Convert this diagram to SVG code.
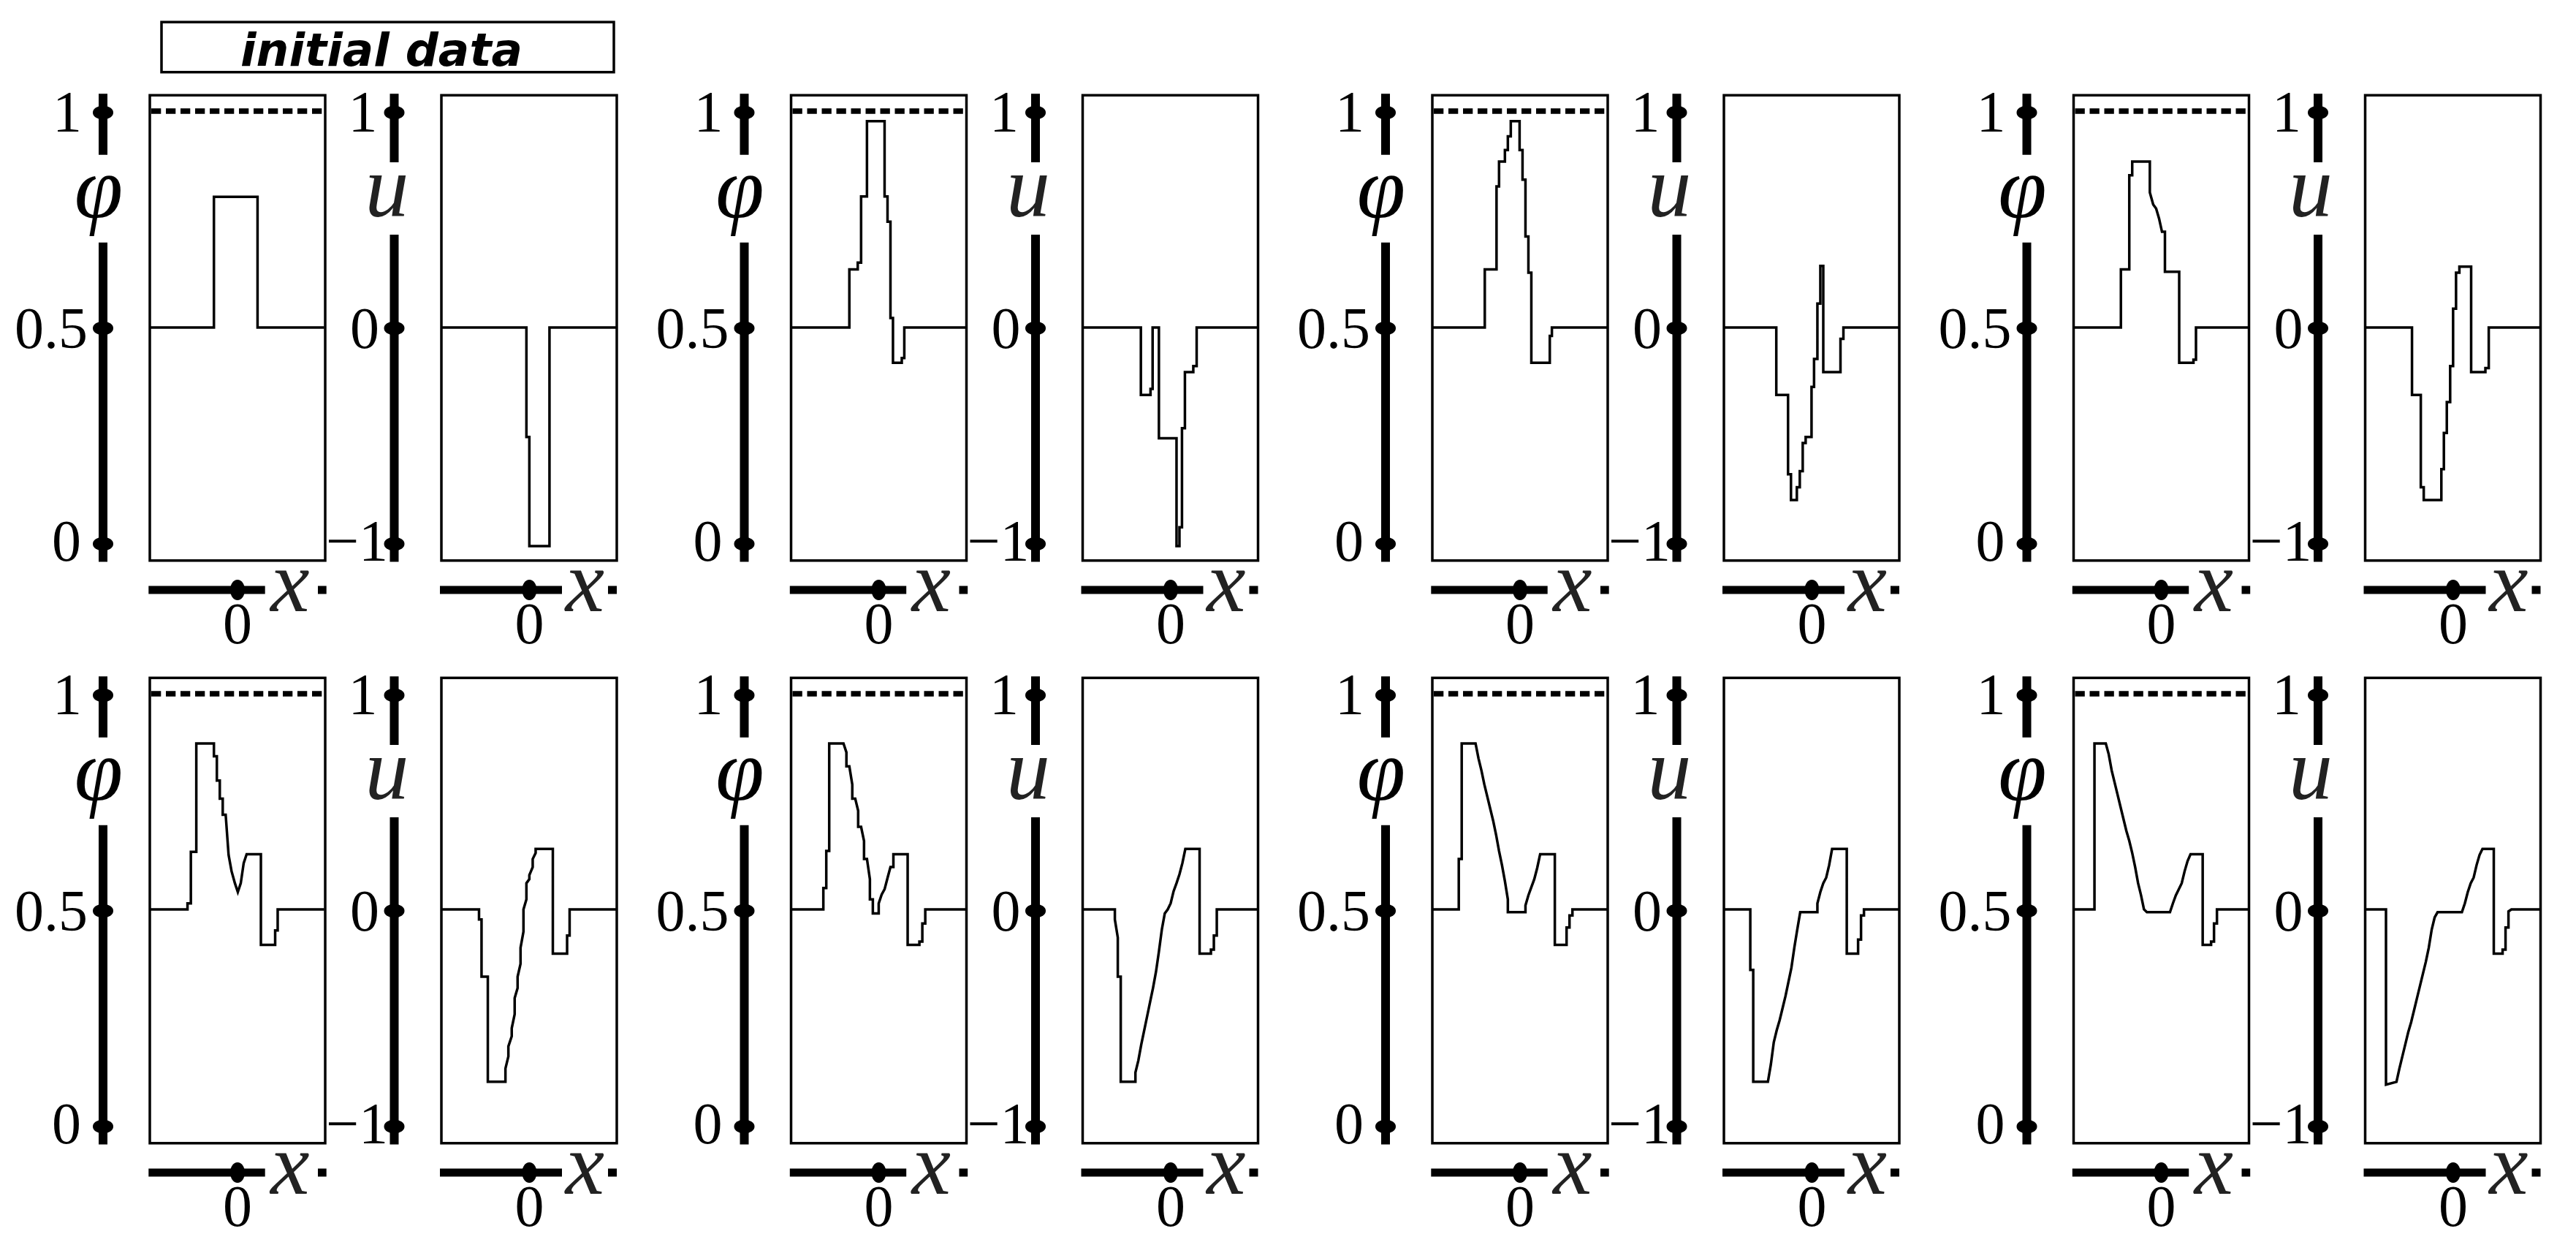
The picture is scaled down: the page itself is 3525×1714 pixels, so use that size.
<svg xmlns="http://www.w3.org/2000/svg" width="3525" height="1714" viewBox="0 0 3525 1714">
<style>
.box{fill:none;stroke:#000;stroke-width:3.5}
.dash{fill:none;stroke:#000;stroke-width:7.5;stroke-dasharray:13.3 6.7}
.ax{fill:none;stroke:#000;stroke-width:12}
.xax{fill:none;stroke:#000;stroke-width:11}
.dot{fill:#000}
.crv{fill:none;stroke:#000;stroke-width:3.5;stroke-linejoin:miter;vector-effect:non-scaling-stroke}
text.num{font-family:'Liberation Serif','DejaVu Serif',serif;font-size:80px;fill:#000}
text.var{font-family:'Liberation Serif','DejaVu Serif',serif;font-style:italic;font-size:120px;fill:#222}
text.phi{fill:#000}
text.title{font-family:'DejaVu Sans',sans-serif;font-weight:bold;font-style:italic;font-size:63px;fill:#000}
.e{text-anchor:end}
.m{text-anchor:middle}
</style>
<rect x="0" y="0" width="3525" height="1714" fill="#fff"/>
<g id="title">
<rect class="box" x="221" y="30.2" width="619" height="68.5"/>
<text class="title m" x="522" y="90">initial data</text>
</g>

<!-- row 1 col 1 -->
<g id="pair-r1c1" transform="translate(0,0)">
<rect class="box" x="205" y="130.3" width="240" height="636.5"/>
<line class="dash" x1="207" y1="152" x2="443" y2="152"/>
<path class="ax" d="M141 128.3V211.7M141 331.8V768.5"/>
<ellipse class="dot" cx="141" cy="154" rx="14" ry="9.5"/><ellipse class="dot" cx="141" cy="449" rx="14" ry="9.5"/><ellipse class="dot" cx="141" cy="744" rx="14" ry="9.5"/>
<text class="num e" x="112" y="180">1</text><text class="num e" x="120" y="476">0.5</text><text class="num e" x="111" y="767">0</text>
<text class="var phi m" x="135" y="297">φ</text>
<path class="xax" d="M203.3 807H362.7"/><ellipse class="dot" cx="325" cy="807" rx="10" ry="14"/><rect class="dot" x="435" y="801.5" width="11.7" height="11"/>
<text class="num m" x="325" y="880">0</text><text class="var m" x="397" y="836">x</text>
<rect class="box" x="604" y="130.3" width="240" height="636.5"/>
<path class="ax" d="M539.5 128.3V222M539.5 321V768.5"/>
<ellipse class="dot" cx="539.5" cy="154" rx="14" ry="9.5"/><ellipse class="dot" cx="539.5" cy="449" rx="14" ry="9.5"/><ellipse class="dot" cx="539.5" cy="744" rx="14" ry="9.5"/>
<text class="num e" x="516.5" y="180">1</text><text class="num e" x="519" y="476">0</text><text class="num e" x="531" y="767">−1</text>
<text class="var m" x="529.5" y="296">u</text>
<path class="xax" d="M602 807H769"/><ellipse class="dot" cx="724.4" cy="807" rx="10" ry="14"/><rect class="dot" x="832" y="801.5" width="12" height="11"/>
<text class="num m" x="724.4" y="880">0</text><text class="var m" x="800.5" y="836">x</text>
<g transform="translate(0,0) scale(0.57398,0.54847)">
<polyline class="crv" points="357,817 510,817 510,491 614,491 614,817 773,817"/>
<polyline class="crv" points="1052,817 1255,817 1255,1090 1262,1090 1262,1362 1310,1362 1310,817 1470,817"/>
</g>
</g>

<!-- row 1 col 2 -->
<g id="pair-r1c2" transform="translate(877.5,0)">
<rect class="box" x="205" y="130.3" width="240" height="636.5"/>
<line class="dash" x1="207" y1="152" x2="443" y2="152"/>
<path class="ax" d="M141 128.3V211.7M141 331.8V768.5"/>
<ellipse class="dot" cx="141" cy="154" rx="14" ry="9.5"/><ellipse class="dot" cx="141" cy="449" rx="14" ry="9.5"/><ellipse class="dot" cx="141" cy="744" rx="14" ry="9.5"/>
<text class="num e" x="112" y="180">1</text><text class="num e" x="120" y="476">0.5</text><text class="num e" x="111" y="767">0</text>
<text class="var phi m" x="135" y="297">φ</text>
<path class="xax" d="M203.3 807H362.7"/><ellipse class="dot" cx="325" cy="807" rx="10" ry="14"/><rect class="dot" x="435" y="801.5" width="11.7" height="11"/>
<text class="num m" x="325" y="880">0</text><text class="var m" x="397" y="836">x</text>
<rect class="box" x="604" y="130.3" width="240" height="636.5"/>
<path class="ax" d="M539.5 128.3V222M539.5 321V768.5"/>
<ellipse class="dot" cx="539.5" cy="154" rx="14" ry="9.5"/><ellipse class="dot" cx="539.5" cy="449" rx="14" ry="9.5"/><ellipse class="dot" cx="539.5" cy="744" rx="14" ry="9.5"/>
<text class="num e" x="516.5" y="180">1</text><text class="num e" x="519" y="476">0</text><text class="num e" x="531" y="767">−1</text>
<text class="var m" x="529.5" y="296">u</text>
<path class="xax" d="M602 807H769"/><ellipse class="dot" cx="724.4" cy="807" rx="10" ry="14"/><rect class="dot" x="832" y="801.5" width="12" height="11"/>
<text class="num m" x="724.4" y="880">0</text><text class="var m" x="800.5" y="836">x</text>
<g transform="translate(3.5,0) scale(0.57398,0.54847)">
<polyline class="crv" points="350,817 490,817 490,672 510,672 510,655 518,655 518,490 532,490 532,302 574,302 574,490 581,490 581,553 588,553 588,793 594,793 594,905 615,905 615,893 621,893 621,817 769,817"/>
<polyline class="crv" points="1046,817 1185,817 1185,985 1208,985 1208,970 1213,970 1213,817 1228,817 1228,1093 1270,1093 1270,1362 1277,1362 1277,1315 1283,1315 1283,1068 1290,1068 1290,928 1310,928 1310,913 1318,913 1318,817 1464,817"/>
</g>
</g>

<!-- row 1 col 3 -->
<g id="pair-r1c3" transform="translate(1755,0)">
<rect class="box" x="205" y="130.3" width="240" height="636.5"/>
<line class="dash" x1="207" y1="152" x2="443" y2="152"/>
<path class="ax" d="M141 128.3V211.7M141 331.8V768.5"/>
<ellipse class="dot" cx="141" cy="154" rx="14" ry="9.5"/><ellipse class="dot" cx="141" cy="449" rx="14" ry="9.5"/><ellipse class="dot" cx="141" cy="744" rx="14" ry="9.5"/>
<text class="num e" x="112" y="180">1</text><text class="num e" x="120" y="476">0.5</text><text class="num e" x="111" y="767">0</text>
<text class="var phi m" x="135" y="297">φ</text>
<path class="xax" d="M203.3 807H362.7"/><ellipse class="dot" cx="325" cy="807" rx="10" ry="14"/><rect class="dot" x="435" y="801.5" width="11.7" height="11"/>
<text class="num m" x="325" y="880">0</text><text class="var m" x="397" y="836">x</text>
<rect class="box" x="604" y="130.3" width="240" height="636.5"/>
<path class="ax" d="M539.5 128.3V222M539.5 321V768.5"/>
<ellipse class="dot" cx="539.5" cy="154" rx="14" ry="9.5"/><ellipse class="dot" cx="539.5" cy="449" rx="14" ry="9.5"/><ellipse class="dot" cx="539.5" cy="744" rx="14" ry="9.5"/>
<text class="num e" x="516.5" y="180">1</text><text class="num e" x="519" y="476">0</text><text class="num e" x="531" y="767">−1</text>
<text class="var m" x="529.5" y="296">u</text>
<path class="xax" d="M602 807H769"/><ellipse class="dot" cx="724.4" cy="807" rx="10" ry="14"/><rect class="dot" x="832" y="801.5" width="12" height="11"/>
<text class="num m" x="724.4" y="880">0</text><text class="var m" x="800.5" y="836">x</text>
<g transform="translate(7,0) scale(0.57398,0.54847)">
<polyline class="crv" points="345,817 470,817 470,672 498,672 498,465 504,465 504,403 518,403 518,374 525,374 525,340 532,340 532,302 553,302 553,374 560,374 560,448 567,448 567,590 574,590 574,680 581,680 581,905 625,905 625,838 630,838 630,817 763,817"/>
<polyline class="crv" points="1040,817 1165,817 1165,985 1193,985 1193,1183 1200,1183 1200,1247 1214,1247 1214,1215 1221,1215 1221,1175 1228,1175 1228,1105 1235,1105 1235,1090 1249,1090 1249,965 1255,965 1255,895 1263,895 1263,757 1270,757 1270,663 1277,663 1277,928 1318,928 1318,845 1325,845 1325,817 1458,817"/>
</g>
</g>

<!-- row 1 col 4 -->
<g id="pair-r1c4" transform="translate(2632.5,0)">
<rect class="box" x="205" y="130.3" width="240" height="636.5"/>
<line class="dash" x1="207" y1="152" x2="443" y2="152"/>
<path class="ax" d="M141 128.3V211.7M141 331.8V768.5"/>
<ellipse class="dot" cx="141" cy="154" rx="14" ry="9.5"/><ellipse class="dot" cx="141" cy="449" rx="14" ry="9.5"/><ellipse class="dot" cx="141" cy="744" rx="14" ry="9.5"/>
<text class="num e" x="112" y="180">1</text><text class="num e" x="120" y="476">0.5</text><text class="num e" x="111" y="767">0</text>
<text class="var phi m" x="135" y="297">φ</text>
<path class="xax" d="M203.3 807H362.7"/><ellipse class="dot" cx="325" cy="807" rx="10" ry="14"/><rect class="dot" x="435" y="801.5" width="11.7" height="11"/>
<text class="num m" x="325" y="880">0</text><text class="var m" x="397" y="836">x</text>
<rect class="box" x="604" y="130.3" width="240" height="636.5"/>
<path class="ax" d="M539.5 128.3V222M539.5 321V768.5"/>
<ellipse class="dot" cx="539.5" cy="154" rx="14" ry="9.5"/><ellipse class="dot" cx="539.5" cy="449" rx="14" ry="9.5"/><ellipse class="dot" cx="539.5" cy="744" rx="14" ry="9.5"/>
<text class="num e" x="516.5" y="180">1</text><text class="num e" x="519" y="476">0</text><text class="num e" x="531" y="767">−1</text>
<text class="var m" x="529.5" y="296">u</text>
<path class="xax" d="M602 807H769"/><ellipse class="dot" cx="724.4" cy="807" rx="10" ry="14"/><rect class="dot" x="832" y="801.5" width="12" height="11"/>
<text class="num m" x="724.4" y="880">0</text><text class="var m" x="800.5" y="836">x</text>
<g transform="translate(-7.5,0) scale(0.57398,0.54847)">
<polyline class="crv" points="370,817 483,817 483,672 503,672 503,437 510,437 510,403 552,403 552,480 560,510 567,520 574,545 581,578 588,578 588,678 622,678 622,905 656,905 656,897 662,897 662,817 789,817"/>
<polyline class="crv" points="1066,817 1177,817 1177,985 1198,985 1198,1215 1205,1215 1205,1247 1247,1247 1247,1170 1253,1170 1253,1080 1260,1080 1260,1003 1268,1003 1268,913 1275,913 1275,770 1282,770 1282,680 1290,680 1290,665 1318,665 1318,928 1352,928 1352,918 1360,918 1360,817 1484,817"/>
</g>
</g>

<!-- row 2 col 1 -->
<g id="pair-r2c1" transform="translate(0,797)">
<rect class="box" x="205" y="130.3" width="240" height="636.5"/>
<line class="dash" x1="207" y1="152" x2="443" y2="152"/>
<path class="ax" d="M141 128.3V211.7M141 331.8V768.5"/>
<ellipse class="dot" cx="141" cy="154" rx="14" ry="9.5"/><ellipse class="dot" cx="141" cy="449" rx="14" ry="9.5"/><ellipse class="dot" cx="141" cy="744" rx="14" ry="9.5"/>
<text class="num e" x="112" y="180">1</text><text class="num e" x="120" y="476">0.5</text><text class="num e" x="111" y="767">0</text>
<text class="var phi m" x="135" y="297">φ</text>
<path class="xax" d="M203.3 807H362.7"/><ellipse class="dot" cx="325" cy="807" rx="10" ry="14"/><rect class="dot" x="435" y="801.5" width="11.7" height="11"/>
<text class="num m" x="325" y="880">0</text><text class="var m" x="397" y="836">x</text>
<rect class="box" x="604" y="130.3" width="240" height="636.5"/>
<path class="ax" d="M539.5 128.3V222M539.5 321V768.5"/>
<ellipse class="dot" cx="539.5" cy="154" rx="14" ry="9.5"/><ellipse class="dot" cx="539.5" cy="449" rx="14" ry="9.5"/><ellipse class="dot" cx="539.5" cy="744" rx="14" ry="9.5"/>
<text class="num e" x="516.5" y="180">1</text><text class="num e" x="519" y="476">0</text><text class="num e" x="531" y="767">−1</text>
<text class="var m" x="529.5" y="296">u</text>
<path class="xax" d="M602 807H769"/><ellipse class="dot" cx="724.4" cy="807" rx="10" ry="14"/><rect class="dot" x="832" y="801.5" width="12" height="11"/>
<text class="num m" x="724.4" y="880">0</text><text class="var m" x="800.5" y="836">x</text>
<g transform="translate(0,53) scale(0.57398,0.55102)">
<polyline class="crv" points="357,715 447,715 447,700 455,700 455,572 468,572 468,303 510,303 510,335 517,335 517,395 524,395 524,440 531,440 531,480 538,480 545,580 552,620 560,650 567,672 574,650 581,600 588,578 622,578 622,803 656,803 656,767 662,767 662,715 773,715"/>
<polyline class="crv" points="1052,715 1142,715 1142,740 1148,740 1148,882 1163,882 1163,1143 1205,1143 1205,1110 1212,1080 1212,1055 1220,1030 1220,1010 1227,975 1227,935 1234,910 1234,882 1241,850 1241,810 1248,770 1248,715 1255,690 1255,650 1262,640 1262,630 1270,610 1270,590 1277,575 1277,565 1318,565 1318,825 1352,825 1352,780 1358,780 1358,715 1470,715"/>
</g>
</g>

<!-- row 2 col 2 -->
<g id="pair-r2c2" transform="translate(877.5,797)">
<rect class="box" x="205" y="130.3" width="240" height="636.5"/>
<line class="dash" x1="207" y1="152" x2="443" y2="152"/>
<path class="ax" d="M141 128.3V211.7M141 331.8V768.5"/>
<ellipse class="dot" cx="141" cy="154" rx="14" ry="9.5"/><ellipse class="dot" cx="141" cy="449" rx="14" ry="9.5"/><ellipse class="dot" cx="141" cy="744" rx="14" ry="9.5"/>
<text class="num e" x="112" y="180">1</text><text class="num e" x="120" y="476">0.5</text><text class="num e" x="111" y="767">0</text>
<text class="var phi m" x="135" y="297">φ</text>
<path class="xax" d="M203.3 807H362.7"/><ellipse class="dot" cx="325" cy="807" rx="10" ry="14"/><rect class="dot" x="435" y="801.5" width="11.7" height="11"/>
<text class="num m" x="325" y="880">0</text><text class="var m" x="397" y="836">x</text>
<rect class="box" x="604" y="130.3" width="240" height="636.5"/>
<path class="ax" d="M539.5 128.3V222M539.5 321V768.5"/>
<ellipse class="dot" cx="539.5" cy="154" rx="14" ry="9.5"/><ellipse class="dot" cx="539.5" cy="449" rx="14" ry="9.5"/><ellipse class="dot" cx="539.5" cy="744" rx="14" ry="9.5"/>
<text class="num e" x="516.5" y="180">1</text><text class="num e" x="519" y="476">0</text><text class="num e" x="531" y="767">−1</text>
<text class="var m" x="529.5" y="296">u</text>
<path class="xax" d="M602 807H769"/><ellipse class="dot" cx="724.4" cy="807" rx="10" ry="14"/><rect class="dot" x="832" y="801.5" width="12" height="11"/>
<text class="num m" x="724.4" y="880">0</text><text class="var m" x="800.5" y="836">x</text>
<g transform="translate(3.5,53) scale(0.57398,0.55102)">
<polyline class="crv" points="350,715 428,715 428,662 435,662 435,570 442,570 442,303 476,303 483,325 483,360 490,360 497,405 497,440 504,440 511,470 511,510 518,510 525,545 525,590 532,590 539,640 539,690 546,690 546,725 560,725 560,700 567,678 574,665 581,637 588,610 595,610 595,578 629,578 629,803 657,803 657,795 664,795 664,750 671,750 671,715 769,715"/>
<polyline class="crv" points="1046,715 1123,715 1123,740 1130,785 1130,882 1137,882 1137,1143 1172,1143 1172,1120 1179,1090 1186,1050 1193,1015 1200,980 1207,945 1214,910 1221,870 1228,820 1235,765 1242,725 1249,715 1256,700 1263,670 1270,650 1277,628 1284,600 1291,565 1325,565 1325,825 1352,825 1352,815 1359,815 1359,780 1366,780 1366,715 1464,715"/>
</g>
</g>

<!-- row 2 col 3 -->
<g id="pair-r2c3" transform="translate(1755,797)">
<rect class="box" x="205" y="130.3" width="240" height="636.5"/>
<line class="dash" x1="207" y1="152" x2="443" y2="152"/>
<path class="ax" d="M141 128.3V211.7M141 331.8V768.5"/>
<ellipse class="dot" cx="141" cy="154" rx="14" ry="9.5"/><ellipse class="dot" cx="141" cy="449" rx="14" ry="9.5"/><ellipse class="dot" cx="141" cy="744" rx="14" ry="9.5"/>
<text class="num e" x="112" y="180">1</text><text class="num e" x="120" y="476">0.5</text><text class="num e" x="111" y="767">0</text>
<text class="var phi m" x="135" y="297">φ</text>
<path class="xax" d="M203.3 807H362.7"/><ellipse class="dot" cx="325" cy="807" rx="10" ry="14"/><rect class="dot" x="435" y="801.5" width="11.7" height="11"/>
<text class="num m" x="325" y="880">0</text><text class="var m" x="397" y="836">x</text>
<rect class="box" x="604" y="130.3" width="240" height="636.5"/>
<path class="ax" d="M539.5 128.3V222M539.5 321V768.5"/>
<ellipse class="dot" cx="539.5" cy="154" rx="14" ry="9.5"/><ellipse class="dot" cx="539.5" cy="449" rx="14" ry="9.5"/><ellipse class="dot" cx="539.5" cy="744" rx="14" ry="9.5"/>
<text class="num e" x="516.5" y="180">1</text><text class="num e" x="519" y="476">0</text><text class="num e" x="531" y="767">−1</text>
<text class="var m" x="529.5" y="296">u</text>
<path class="xax" d="M602 807H769"/><ellipse class="dot" cx="724.4" cy="807" rx="10" ry="14"/><rect class="dot" x="832" y="801.5" width="12" height="11"/>
<text class="num m" x="724.4" y="880">0</text><text class="var m" x="800.5" y="836">x</text>
<g transform="translate(7,53) scale(0.57398,0.55102)">
<polyline class="crv" points="345,715 408,715 408,590 415,590 415,303 448,303 455,340 462,370 469,405 476,435 483,465 490,495 497,530 504,570 511,605 518,645 525,690 525,722 567,722 567,705 574,680 581,660 588,640 595,612 602,578 637,578 637,803 665,803 665,760 672,760 672,730 679,730 679,715 763,715"/>
<polyline class="crv" points="1040,715 1103,715 1103,865 1110,865 1110,1143 1145,1143 1152,1100 1159,1045 1166,1015 1173,990 1180,960 1187,930 1194,895 1201,860 1208,810 1215,765 1222,722 1263,722 1263,700 1270,672 1277,650 1284,636 1291,605 1298,565 1333,565 1333,825 1360,825 1360,790 1367,790 1367,730 1374,730 1374,715 1458,715"/>
</g>
</g>

<!-- row 2 col 4 -->
<g id="pair-r2c4" transform="translate(2632.5,797)">
<rect class="box" x="205" y="130.3" width="240" height="636.5"/>
<line class="dash" x1="207" y1="152" x2="443" y2="152"/>
<path class="ax" d="M141 128.3V211.7M141 331.8V768.5"/>
<ellipse class="dot" cx="141" cy="154" rx="14" ry="9.5"/><ellipse class="dot" cx="141" cy="449" rx="14" ry="9.5"/><ellipse class="dot" cx="141" cy="744" rx="14" ry="9.5"/>
<text class="num e" x="112" y="180">1</text><text class="num e" x="120" y="476">0.5</text><text class="num e" x="111" y="767">0</text>
<text class="var phi m" x="135" y="297">φ</text>
<path class="xax" d="M203.3 807H362.7"/><ellipse class="dot" cx="325" cy="807" rx="10" ry="14"/><rect class="dot" x="435" y="801.5" width="11.7" height="11"/>
<text class="num m" x="325" y="880">0</text><text class="var m" x="397" y="836">x</text>
<rect class="box" x="604" y="130.3" width="240" height="636.5"/>
<path class="ax" d="M539.5 128.3V222M539.5 321V768.5"/>
<ellipse class="dot" cx="539.5" cy="154" rx="14" ry="9.5"/><ellipse class="dot" cx="539.5" cy="449" rx="14" ry="9.5"/><ellipse class="dot" cx="539.5" cy="744" rx="14" ry="9.5"/>
<text class="num e" x="516.5" y="180">1</text><text class="num e" x="519" y="476">0</text><text class="num e" x="531" y="767">−1</text>
<text class="var m" x="529.5" y="296">u</text>
<path class="xax" d="M602 807H769"/><ellipse class="dot" cx="724.4" cy="807" rx="10" ry="14"/><rect class="dot" x="832" y="801.5" width="12" height="11"/>
<text class="num m" x="724.4" y="880">0</text><text class="var m" x="800.5" y="836">x</text>
<g transform="translate(-7.5,53) scale(0.57398,0.55102)">
<polyline class="crv" points="370,715 420,715 420,303 447,303 454,330 461,370 468,400 475,430 482,460 489,490 496,520 503,545 510,575 517,610 524,650 531,680 538,715 545,722 600,722 607,700 614,680 621,665 628,650 635,620 642,595 649,578 678,578 678,803 698,803 698,795 705,795 705,750 712,750 712,715 789,715"/>
<polyline class="crv" points="1066,715 1115,715 1115,1150 1140,1143 1147,1110 1154,1080 1161,1050 1168,1020 1175,995 1182,965 1189,935 1196,905 1203,875 1210,845 1217,810 1224,765 1231,735 1238,722 1296,722 1303,700 1310,672 1317,650 1324,636 1331,605 1338,580 1345,565 1372,565 1372,825 1393,825 1393,815 1400,815 1400,760 1407,760 1407,720 1414,715 1484,715"/>
</g>
</g>
</svg>
